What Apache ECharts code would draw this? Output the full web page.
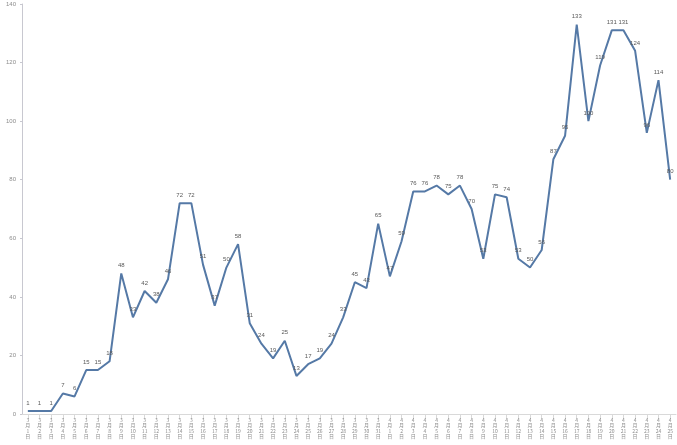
<!DOCTYPE html>
<html lang="zh">
<head>
    <meta charset="UTF-8">
    <title>每日数量</title>
    <script src="https://cdn.jsdelivr.net/npm/echarts@6/dist/echarts.min.js"></script>
    <style>
        html, body { margin: 0; padding: 0; background: #fff; }
    </style>
</head>
<body>
    <div id="chart" style="width: 677px; height: 445px;"></div>
    <script>
        // 日期：3月1日 - 4月25日
        let dates = [];
        for (let d = 1; d <= 31; d++) dates.push('3月' + d + '日');
        for (let d = 1; d <= 25; d++) dates.push('4月' + d + '日');

        let counts = [
            1, 1, 1, 7, 6, 15, 15, 18, 48, 33, 42, 38, 46, 72, 72, 51, 37, 50, 58, 31,
            24, 19, 25, 13, 17, 19, 24, 33, 45, 43, 65, 47, 59, 76, 76, 78, 75, 78, 70, 53,
            75, 74, 53, 50, 56, 87, 95, 133, 100, 119, 131, 131, 124, 96, 114, 80
        ];

        let yTicks = [0, 20, 40, 60, 80, 100, 120, 140];

        let myChart = echarts.init(document.getElementById('chart'));

        let option = {
            animation: false,
            grid: { left: 22, right: 1, top: 4, bottom: 31 },
            xAxis: {
                type: 'category',
                data: dates,
                axisLine: { lineStyle: { color: '#d9d9d9' } },
                axisTick: { show: true, alignWithLabel: true, lineStyle: { color: '#d9d9d9' } },
                axisLabel: {
                    interval: 0,
                    fontSize: 5,
                    lineHeight: 5.5,
                    color: '#8c8c8c',
                    margin: 3,
                    fontFamily: 'Noto Sans CJK SC',
                    // 竖排：月 / 日 分行
                    formatter: function (v) {
                        let m = v.match(/(\d+)月(\d+)日/);
                        return m[1] + '\n月\n' + m[2] + '\n日';
                    }
                }
            },
            yAxis: {
                type: 'value',
                min: yTicks[0],
                max: yTicks[yTicks.length - 1],
                interval: 20,
                axisLine: { show: true, lineStyle: { color: '#c8c8d0' } },
                axisTick: { show: true, length: 2, lineStyle: { color: '#c8c8d0' } },
                splitLine: { show: false },
                axisLabel: { fontSize: 6, color: '#8c8c8c', margin: 6 }
            },
            series: [
                {
                    type: 'line',
                    data: counts,
                    symbol: 'circle',
                    symbolSize: 2,
                    showSymbol: true,
                    showAllSymbol: true,
                    itemStyle: { color: 'rgba(0,0,0,0)' },
                    lineStyle: { color: '#5579a6', width: 2 },
                    label: {
                        show: true,
                        position: 'top',
                        fontSize: 6,
                        color: '#595959',
                        distance: 4
                    },
                    labelLayout: { hideOverlap: false }
                }
            ]
        };

        myChart.setOption(option);
    </script>
</body>
</html>
